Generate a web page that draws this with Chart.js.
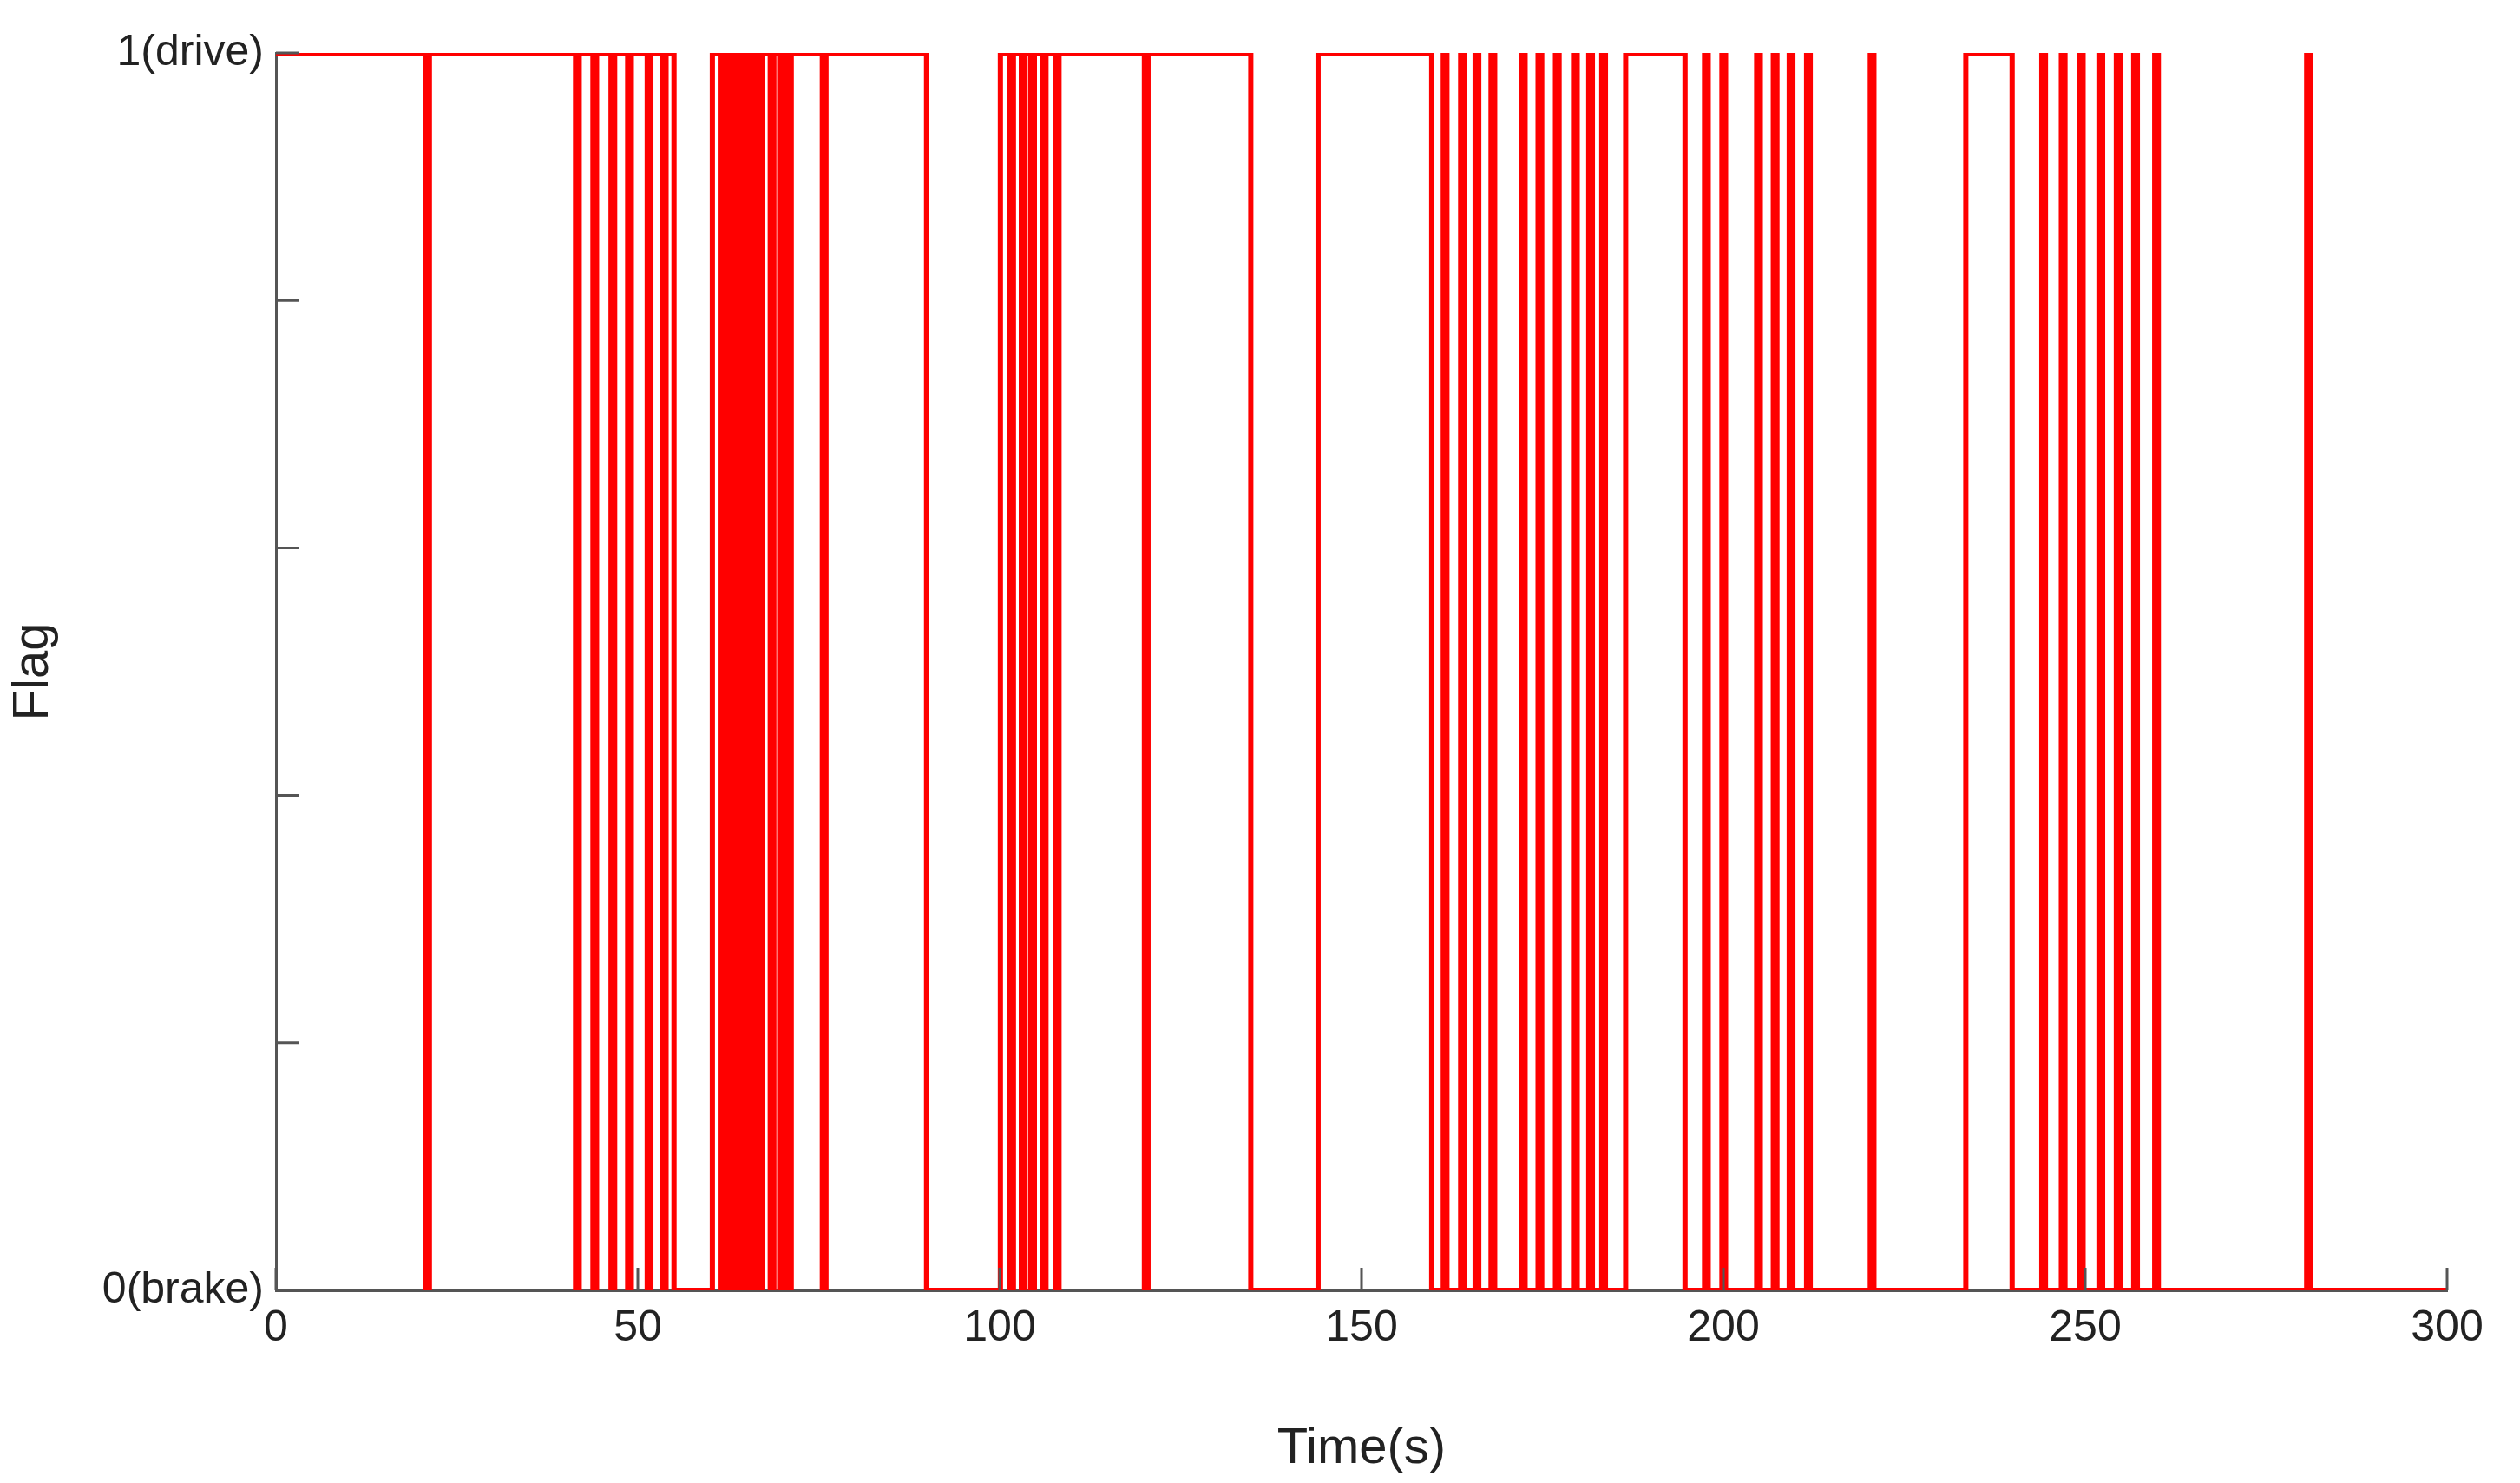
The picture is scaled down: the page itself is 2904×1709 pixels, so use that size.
<!DOCTYPE html>
<html>
<head>
<meta charset="utf-8">
<script src="https://cdn.jsdelivr.net/npm/chart.js@4/dist/chart.umd.min.js"></script>
<style>
  html, body { margin: 0; padding: 0; background: #fff; }
  #wrap { width: 2904px; height: 1709px; }
</style>
</head>
<body>
<div id="wrap"><canvas id="flagChart"></canvas></div>
<script>
// brake periods (flag = 0), in seconds
var brakeStarts = [55, 89.9, 134.7, 159.7, 194.7, 239.9];
var brakeEnds = [60.3, 100.1, 144, 186.5, 233.5, 300];
// short drops to brake while driving
var driveDips = [20.7, 41.4, 43.8, 46.3, 48.6, 51.3, 53.4, 61.4, 62.3, 63.2, 64, 64.9, 65.8, 66.7, 68.3, 69.6, 70.7, 75.5, 101.4, 103, 104.3, 105.9, 107.7, 120];
// short jumps to drive while braking
var brakeSpikes = [161.3, 163.7, 165.7, 167.9, 172.1, 174.4, 176.8, 179.3, 181.4, 183.2, 197.4, 199.8, 204.6, 206.9, 209.1, 211.5, 220.3, 244, 246.7, 249.2, 251.9, 254.3, 256.7, 259.6, 280.6];
var xTicks = [0, 50, 100, 150, 200, 250, 300];
var spikeWidth = 0.5;

// build the step signal as points
var events = [];
for (var i = 0; i < brakeStarts.length; i++) {
  events.push({ t: brakeStarts[i], v: 0 });
  events.push({ t: brakeEnds[i], v: 1 });
}
driveDips.forEach(function (t) { events.push({ t: t, v: 0 }); events.push({ t: t + spikeWidth, v: 1 }); });
brakeSpikes.forEach(function (t) { events.push({ t: t, v: 1 }); events.push({ t: t + spikeWidth, v: 0 }); });
events.sort(function (a, b) { return a.t - b.t; });

var points = [{ x: 0, y: 1 }];
var cur = 1;
events.forEach(function (e) {
  if (e.t >= 300) return;
  points.push({ x: e.t, y: cur });
  points.push({ x: e.t, y: e.v });
  cur = e.v;
});
points.push({ x: 300, y: cur });

// inward tick marks like the original figure
var inwardTicks = {
  id: "inwardTicks",
  afterDraw: function (chart) {
    var ctx = chart.ctx, xs = chart.scales.x, ys = chart.scales.y;
    ctx.save();
    ctx.strokeStyle = "#555";
    ctx.lineWidth = 3;
    ctx.beginPath();
    xTicks.forEach(function (v) {
      var px = xs.getPixelForValue(v);
      ctx.moveTo(px, ys.bottom); ctx.lineTo(px, ys.bottom - 26);
    });
    [0, 0.2, 0.4, 0.6, 0.8, 1].forEach(function (v) {
      var py = ys.getPixelForValue(v);
      ctx.moveTo(xs.left, py); ctx.lineTo(xs.left + 26, py);
    });
    ctx.stroke();
    ctx.restore();
  }
};

new Chart(document.getElementById("flagChart"), {
  type: "line",
  data: {
    datasets: [{
      data: points,
      borderColor: "#ff0000",
      borderWidth: 6,
      pointRadius: 0,
      tension: 0,
      fill: false
    }]
  },
  options: {
    responsive: true,
    maintainAspectRatio: false,
    animation: false,
    devicePixelRatio: 1,
    layout: { padding: { top: 61, right: 84, left: 0, bottom: 0 } },
    plugins: { legend: { display: false }, tooltip: { enabled: false } },
    scales: {
      x: {
        type: "linear",
        min: 0, max: 300,
        afterBuildTicks: function (s) { s.ticks = xTicks.map(function (v) { return { value: v }; }); },
        afterFit: function (s) { s.height = 222; },
        grid: { display: false, drawTicks: false },
        border: { display: true, color: "#555", width: 3 },
        ticks: { padding: 14, color: "#222", font: { family: "Liberation Sans", size: 50 } },
        title: { display: true, text: "Time(s)", color: "#222", font: { family: "Liberation Sans", size: 58 }, padding: { top: 0 } }
      },
      y: {
        min: 0, max: 1,
        afterBuildTicks: function (s) { s.ticks = [{ value: 0 }, { value: 1 }]; },
        afterFit: function (s) { s.width = 318; },
        grid: { display: false, drawTicks: false },
        border: { display: true, color: "#555", width: 3 },
        ticks: {
          padding: 14, color: "#222", font: { family: "Liberation Sans", size: 50 },
          callback: function (v) { return v === 1 ? "1(drive)" : v === 0 ? "0(brake)" : ""; }
        },
        title: { display: true, text: "Flag", color: "#222", font: { family: "Liberation Sans", size: 58 } }
      }
    }
  },
  plugins: [inwardTicks]
});
</script>
</body>
</html>
